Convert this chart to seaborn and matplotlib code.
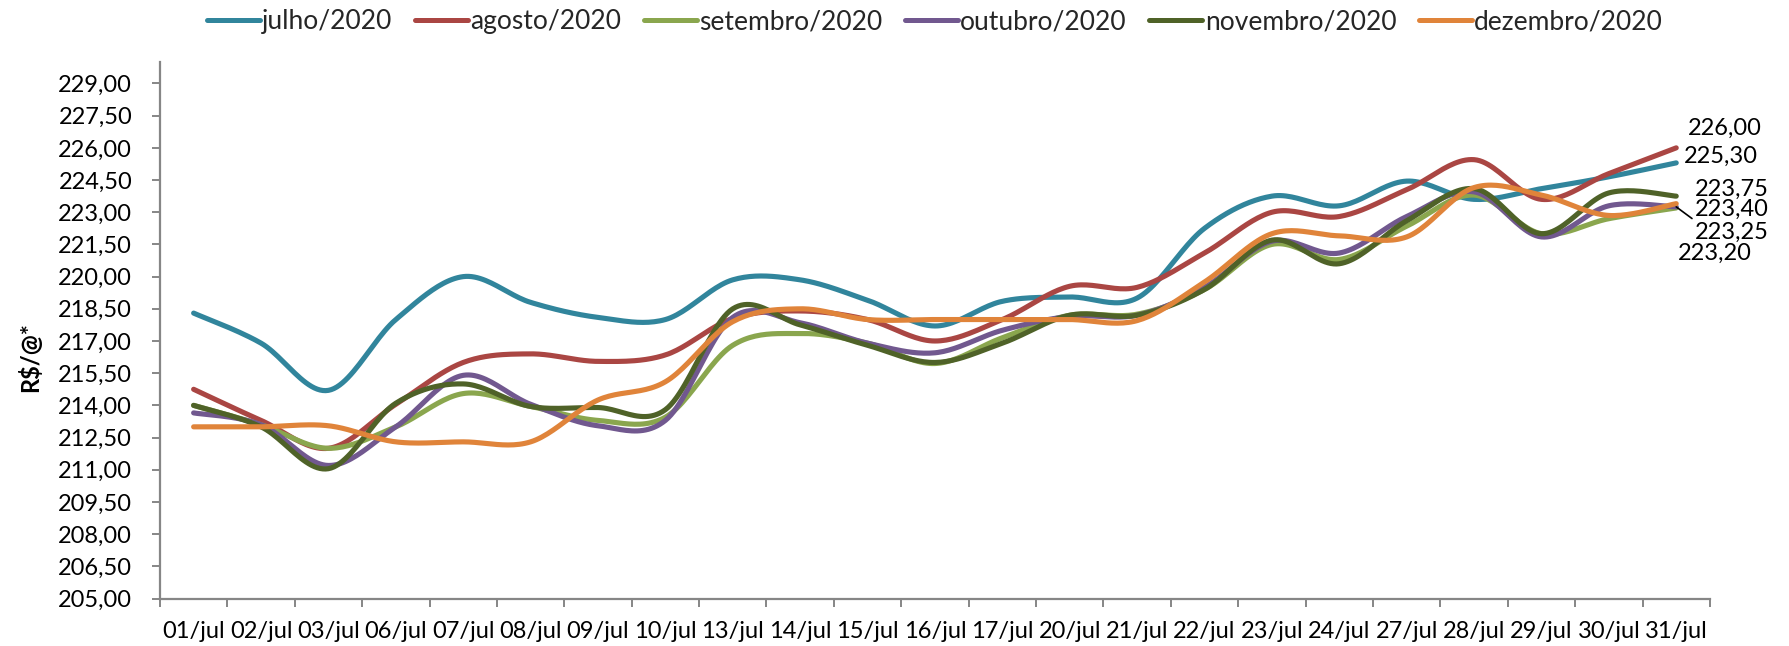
import numpy as np
import pandas as pd
import seaborn as sns
import matplotlib
matplotlib.use("Agg")
import matplotlib.pyplot as plt
from matplotlib.ticker import FuncFormatter

# eixo x: dias de julho
dias = ['01/jul', '02/jul', '03/jul', '06/jul', '07/jul', '08/jul', '09/jul', '10/jul',
        '13/jul', '14/jul', '15/jul', '16/jul', '17/jul', '20/jul', '21/jul', '22/jul',
        '23/jul', '24/jul', '27/jul', '28/jul', '29/jul', '30/jul', '31/jul']

# valores por vencimento (R$/@)
julho = [218.30, 216.90, 214.70, 218.00, 220.00, 218.80, 218.10, 218.00, 219.85, 219.85, 218.90, 217.70,
         218.85, 219.05, 219.00, 222.25, 223.75, 223.30, 224.45, 223.60, 224.10, 224.65, 225.30]
agosto = [214.75, 213.30, 212.00, 214.05, 216.00, 216.40, 216.05, 216.35, 218.05, 218.40, 218.00, 217.00,
          218.00, 219.55, 219.50, 221.10, 223.00, 222.80, 224.05, 225.45, 223.60, 224.80, 226.00]
setembro = [214.00, 213.10, 212.00, 213.00, 214.55, 213.95, 213.30, 213.45, 216.80, 217.35, 216.90, 215.95,
            217.15, 218.20, 218.25, 219.40, 221.50, 220.80, 222.35, 223.80, 222.00, 222.70, 223.20]
outubro = [213.65, 213.10, 211.20, 213.00, 215.40, 214.05, 213.05, 213.30, 218.10, 217.85, 216.90, 216.45,
           217.50, 218.15, 218.20, 219.50, 221.65, 221.10, 222.80, 223.95, 221.85, 223.30, 223.25]
novembro = [214.00, 213.00, 211.05, 214.10, 215.00, 213.95, 213.90, 213.80, 218.50, 217.75, 216.80, 216.00,
            216.90, 218.20, 218.20, 219.40, 221.70, 220.60, 222.60, 224.10, 222.00, 223.90, 223.75]
dezembro = [213.00, 213.00, 213.05, 212.30, 212.30, 212.30, 214.25, 215.10, 217.90, 218.50, 218.00, 218.00,
            218.00, 218.00, 217.95, 219.75, 222.00, 221.90, 221.85, 224.15, 223.80, 222.85, 223.40]

meses = ['julho/2020', 'agosto/2020', 'setembro/2020', 'outubro/2020', 'novembro/2020', 'dezembro/2020']
series = [julho, agosto, setembro, outubro, novembro, dezembro]
cores = ['#31859C', '#AA4643', '#8AA64E', '#71588F', '#4F6228', '#E0843A']


def suavizar(y, passos=24):
    # curva suave tipo Excel (bezier com tangentes de Catmull-Rom)
    y = np.asarray(y, dtype=float)
    x = np.arange(len(y), dtype=float)
    t = np.linspace(0, 1, passos, endpoint=False)
    xs, ys = [], []
    for i in range(len(y) - 1):
        a, b = max(i - 1, 0), min(i + 2, len(y) - 1)
        px = [x[i], x[i] + (x[i + 1] - x[a]) / 6, x[i + 1] - (x[b] - x[i]) / 6, x[i + 1]]
        py = [y[i], y[i] + (y[i + 1] - y[a]) / 6, y[i + 1] - (y[b] - y[i]) / 6, y[i + 1]]
        c = [(1 - t) ** 3, 3 * (1 - t) ** 2 * t, 3 * (1 - t) * t ** 2, t ** 3]
        xs.append(sum(ci * p for ci, p in zip(c, px)))
        ys.append(sum(ci * p for ci, p in zip(c, py)))
    xs.append([x[-1]])
    ys.append([y[-1]])
    return np.concatenate(xs), np.concatenate(ys)


linhas = []
for mes, vals in zip(meses, series):
    xs, ys = suavizar(vals)
    linhas.append(pd.DataFrame({'x': xs, 'valor': ys, 'mes': mes}))
df = pd.concat(linhas, ignore_index=True)

sns.set_theme(style='white')
plt.rcParams['font.family'] = ['Lato', 'DejaVu Sans']

fig = plt.figure(figsize=(17.89, 6.46), dpi=100)
ax = fig.add_axes([0.0894, 0.0735, 0.8664, 0.8305])

sns.lineplot(data=df, x='x', y='valor', hue='mes', hue_order=meses, palette=cores,
             estimator=None, sort=False, linewidth=3.7, ax=ax, legend=False)

# rótulos finais
offsets = {'agosto/2020': (8.6, 13.7), 'julho/2020': (5.8, 5), 'novembro/2020': (13.7, 5),
           'dezembro/2020': (13.7, -4.3), 'outubro/2020': (13.7, -18), 'setembro/2020': (1.4, -32.4)}
for mes, vals in zip(meses, series):
    texto = f"{vals[-1]:.2f}".replace('.', ',')
    dx, dy = offsets[mes]
    props = None
    if mes == 'outubro/2020':
        props = dict(arrowstyle='-', color='black', lw=1.2, shrinkA=0, shrinkB=0, relpos=(0.2, 0.5))
    ax.annotate(texto, xy=(len(vals) - 1, vals[-1]), xytext=(dx, dy), textcoords='offset points',
                ha='left', va='center', fontsize=17, color='black', arrowprops=props)

ax.set_xlim(-0.5, len(dias) - 0.5)
ax.set_ylim(205, 230)
ax.set_yticks(np.arange(205, 229.01, 1.5))
ax.yaxis.set_major_formatter(FuncFormatter(lambda v, p: f"{v:.2f}".replace('.', ',')))
ax.set_xticks(range(len(dias)))
ax.set_xticklabels(dias)
ax.set_xticks(np.arange(-0.5, len(dias), 1), minor=True)

ax.tick_params(axis='x', which='major', length=0, pad=16, labelsize=17, colors='black')
ax.tick_params(axis='x', which='minor', length=6, width=1.4, color='#868686', direction='out', bottom=True)
ax.tick_params(axis='y', which='major', length=6, width=1.4, color='#868686', direction='out',
               left=True, pad=14, labelsize=17, labelcolor='black')

for lado in ['top', 'right']:
    ax.spines[lado].set_visible(False)
for lado in ['left', 'bottom']:
    ax.spines[lado].set_color('#868686')
    ax.spines[lado].set_linewidth(1.6)

ax.set_xlabel('')
ax.set_ylabel('R$/@*', fontsize=17, fontweight='bold', color='black')
ax.yaxis.set_label_coords(-0.076, 0.45)

handles = [plt.Line2D([0], [0], color=c, lw=3.6, solid_capstyle='round') for c in cores]
ax.legend(handles, meses, loc='center', bbox_to_anchor=(0.5, 1.075), ncol=6, frameon=False,
          fontsize=19, handlelength=2.0, handletextpad=0.1, columnspacing=0.85)

fig.savefig('out.png', dpi=100)
